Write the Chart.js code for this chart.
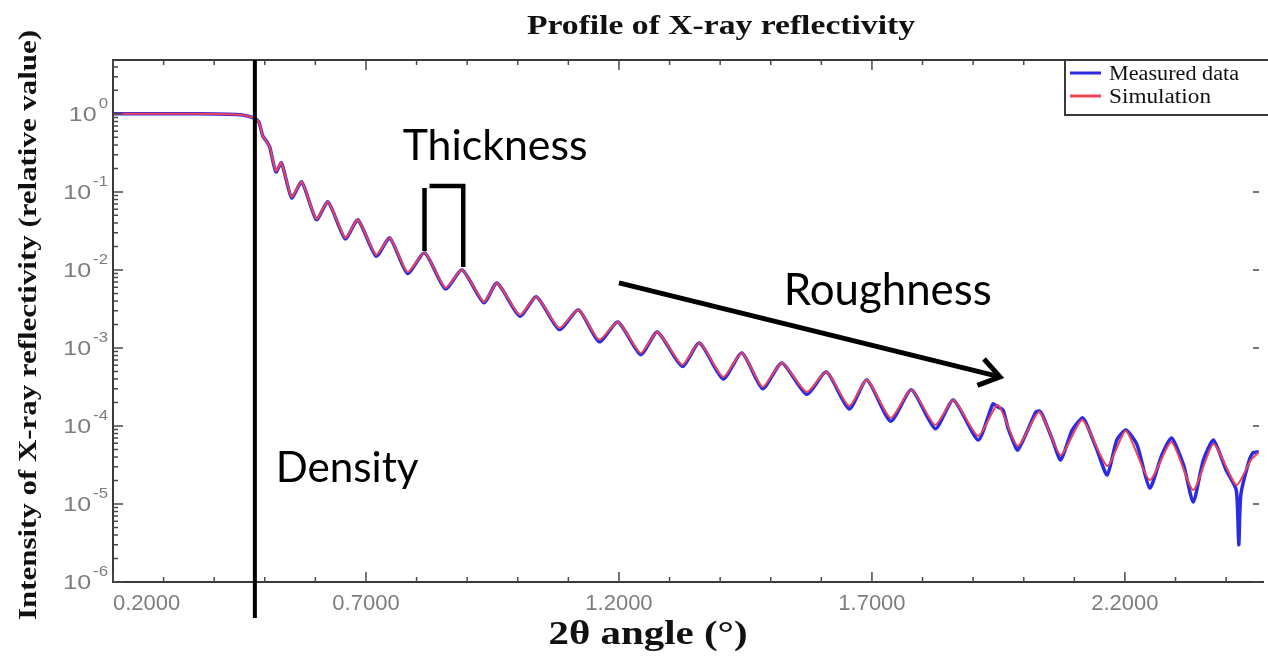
<!DOCTYPE html>
<html>
<head>
    <title>Profile of X-ray reflectivity</title>
    <style>
        html, body { margin: 0; padding: 0; background: #fff; overflow: hidden; }
        #wrap { position: relative; width: 1268px; height: 657px; }
    </style>
    <script src="https://cdn.jsdelivr.net/npm/chart.js"></script>
</head>
<body>
    <div id="wrap"><canvas id="myChart"></canvas></div>
    <script>
        // valores (2theta en grados, intensidad relativa)
        var simAngle = [0.200, 0.292, 0.371, 0.455, 0.478, 0.488, 0.496, 0.504, 0.510, 0.522,
            0.533, 0.553, 0.573, 0.602, 0.625, 0.659, 0.684, 0.720, 0.747, 0.782,
            0.816, 0.857, 0.890, 0.933, 0.959, 1.004, 1.037, 1.082, 1.120, 1.161,
            1.198, 1.243, 1.276, 1.325, 1.359, 1.406, 1.443, 1.484, 1.522, 1.571,
            1.610, 1.655, 1.690, 1.737, 1.778, 1.825, 1.861, 1.910, 1.949, 1.988,
            2.031, 2.073, 2.116, 2.165, 2.202, 2.249, 2.292, 2.335, 2.375, 2.420,
            2.449, 2.465];
        var simIntensity = [1.0, 1.0, 1.0, 0.97, 0.89, 0.79, 0.52, 0.44, 0.37, 0.186,
            0.235, 0.0863, 0.134, 0.0451, 0.0744, 0.0257, 0.0438, 0.0156, 0.0257, 0.0094,
            0.0165, 0.0059, 0.0100, 0.0039, 0.0068, 0.00265, 0.00451, 0.00180, 0.00307, 0.00127,
            0.00215, 0.00086, 0.00160, 0.00061, 0.00116, 0.000425, 0.000863, 0.000316, 0.000643, 0.000273,
            0.000492, 0.000180, 0.000389, 0.000127, 0.000290, 0.000103, 0.000215, 0.0000745, 0.000186, 0.0000554,
            0.000151, 0.0000425, 0.000119, 0.0000307, 0.0000863, 0.0000203, 0.0000624, 0.0000151, 0.0000588, 0.0000175,
            0.0000366, 0.0000464];

        var measAngle = [0.200, 0.292, 0.371, 0.455, 0.478, 0.488, 0.496, 0.504, 0.510, 0.522,
            0.533, 0.553, 0.573, 0.602, 0.625, 0.659, 0.684, 0.720, 0.747, 0.782,
            0.816, 0.857, 0.890, 0.933, 0.959, 1.004, 1.037, 1.082, 1.120, 1.161,
            1.198, 1.243, 1.276, 1.325, 1.359, 1.406, 1.443, 1.484, 1.522, 1.571,
            1.610, 1.655, 1.690, 1.737, 1.778, 1.825, 1.861, 1.910, 1.939, 1.949,
            1.959, 1.969, 1.978, 1.988, 2.008, 2.024, 2.031, 2.037, 2.057, 2.073,
            2.096, 2.116, 2.125, 2.145, 2.165, 2.184, 2.202, 2.224, 2.249, 2.273,
            2.292, 2.316, 2.335, 2.355, 2.375, 2.400, 2.420, 2.425, 2.429, 2.445,
            2.453, 2.465];
        var measIntensity = [1.0, 1.0, 1.0, 0.97, 0.89, 0.79, 0.52, 0.44, 0.37, 0.180,
            0.235, 0.0840, 0.134, 0.0440, 0.0744, 0.0250, 0.0438, 0.0150, 0.0257, 0.0090,
            0.0165, 0.0057, 0.0100, 0.0038, 0.0068, 0.00255, 0.00451, 0.00172, 0.00307, 0.00120,
            0.00215, 0.00082, 0.00160, 0.00058, 0.00116, 0.000400, 0.000863, 0.000300, 0.000643, 0.000255,
            0.000492, 0.000165, 0.000389, 0.000115, 0.000290, 0.000092, 0.000215, 0.0000660, 0.000191, 0.000175,
            0.000160, 0.0000940, 0.0000660, 0.0000490, 0.0000890, 0.000151, 0.000155, 0.000138, 0.0000660, 0.0000366,
            0.0000890, 0.000127, 0.000103, 0.0000490, 0.0000235, 0.0000660, 0.0000890, 0.0000571, 0.0000160, 0.0000425,
            0.0000702, 0.0000316, 0.0000106, 0.0000366, 0.0000660, 0.0000273, 0.0000151, 0.0000030, 0.0000130, 0.0000350,
            0.0000451, 0.0000464];

        var xTicks = [0.2, 0.7, 1.2, 1.7, 2.2];
        var yTicks = [1e-6, 1e-5, 1e-4, 1e-3, 1e-2, 1e-1, 1];
        var xMin = 0.2, xMax = 2.465;
        var yMin = 1e-6, yMax = 4.9;

        // anotaciones en coordenadas de datos
        var densityAngle = 0.4804;
        var bracket = { x1: 0.8157, x2: 0.8922, top: 0.119, y1: 0.0175, y2: 0.0109 };
        var arrow = { x1: 1.200, y1: 0.00681, x2: 1.953, y2: 0.000425 };
        var notes = [
            { text: 'Thickness', x: 0.7725, y: 0.257, w: 185 },
            { text: 'Roughness', x: 1.5255, y: 0.00356, w: 208 },
            { text: 'Density', x: 0.5216, y: 0.0000191, w: 143 }
        ];

        var serif = '"Liberation Serif", "Times New Roman", serif';
        var sans = '"Liberation Sans", Arial, sans-serif';

        function drawText(ctx, text, font, x, y, align, sx) {
            ctx.save();
            ctx.font = font;
            ctx.textAlign = align;
            ctx.textBaseline = 'alphabetic';
            ctx.translate(x, y);
            ctx.scale(sx, 1);
            ctx.fillText(text, 0, 0);
            ctx.restore();
        }

        function fitScale(ctx, text, font, width) {
            ctx.save();
            ctx.font = font;
            var w = ctx.measureText(text).width;
            ctx.restore();
            return width / w;
        }

        var decor = {
            id: 'decor',
            afterDatasetsDraw: function (chart) {
                var ctx = chart.ctx, area = chart.chartArea;
                var xs = chart.scales.x, ys = chart.scales.y;
                ctx.save();

                // marco de los ejes
                ctx.strokeStyle = '#3a3a3a';
                ctx.lineWidth = 2;
                ctx.beginPath();
                ctx.moveTo(area.right + 5, area.top);
                ctx.lineTo(area.left, area.top);
                ctx.lineTo(area.left, area.bottom);
                ctx.lineTo(area.right + 5, area.bottom);
                ctx.stroke();

                // marcas hacia dentro
                ctx.lineWidth = 1.5;
                ctx.strokeStyle = '#4a4a4a';
                ctx.beginPath();
                for (var k = 2; k / 10 < xMax; k++) {
                    var v = k / 10;
                    var px = xs.getPixelForValue(v);
                    var major = xTicks.some(function (t) { return Math.abs(t - v) < 1e-6; });
                    var len = major ? 10 : 5;
                    ctx.moveTo(px, area.bottom); ctx.lineTo(px, area.bottom - len);
                    ctx.moveTo(px, area.top); ctx.lineTo(px, area.top + len);
                }
                for (var d = -6; d <= 0; d++) {
                    for (var m = 1; m <= 9; m++) {
                        var val = m * Math.pow(10, d);
                        if (val > yMax) break;
                        var py = ys.getPixelForValue(val);
                        var l2 = m === 1 ? 10 : 5;
                        ctx.moveTo(area.left, py); ctx.lineTo(area.left + l2, py);
                        if (m === 1) { ctx.moveTo(area.right, py); ctx.lineTo(area.right - 6, py); }
                    }
                }
                ctx.stroke();

                // etiquetas del eje y (10^n)
                ctx.fillStyle = '#7d7d7d';
                yTicks.forEach(function (v) {
                    var py = ys.getPixelForValue(v);
                    var e = String(Math.round(Math.log10(v)));
                    ctx.font = '14px ' + sans;
                    var ew = ctx.measureText(e).width * 1.2;
                    drawText(ctx, e, '14px ' + sans, area.left - 5, py - 6, 'right', 1.2);
                    drawText(ctx, '10', '20px ' + sans, area.left - 7 - ew, py + 7, 'right', 1.25);
                });

                // titulos
                ctx.fillStyle = '#111';
                var tFont = 'bold 28px ' + serif;
                var tText = 'Profile of X-ray reflectivity';
                drawText(ctx, tText, tFont, 721, 34, 'center', fitScale(ctx, tText, tFont, 388));

                var xFont = 'bold 33px ' + serif;
                var xText = '2\u03b8 angle (\u00b0)';
                drawText(ctx, xText, xFont, 648, 644, 'center', fitScale(ctx, xText, xFont, 199));

                var yFont = 'bold 26px ' + serif;
                var yText = 'Intensity of X-ray reflectivity (relative value)';
                var ysx = fitScale(ctx, yText, yFont, 590);
                ctx.save();
                ctx.translate(36, 325);
                ctx.rotate(-Math.PI / 2);
                drawText(ctx, yText, yFont, 0, 0, 'center', ysx);
                ctx.restore();

                // leyenda
                var lx = area.right - 194, ly = area.top;
                ctx.fillStyle = '#fff';
                ctx.fillRect(lx, ly, area.right - lx + 5, 55);
                ctx.strokeStyle = '#3a3a3a';
                ctx.lineWidth = 2;
                ctx.strokeRect(lx, ly, area.right - lx + 10, 55);
                var lFont = '20px ' + serif;
                chart.data.datasets.forEach(function (ds, i) {
                    var yy = ly + 13 + i * 23;
                    ctx.strokeStyle = ds.borderColor;
                    ctx.lineWidth = 3;
                    ctx.beginPath();
                    ctx.moveTo(lx + 5, yy); ctx.lineTo(lx + 36, yy);
                    ctx.stroke();
                    ctx.fillStyle = '#111';
                    var tw = i === 0 ? 130 : 102;
                    drawText(ctx, ds.label, lFont, lx + 44, yy + 7, 'left', fitScale(ctx, ds.label, lFont, tw));
                });

                // anotaciones
                ctx.strokeStyle = '#000';
                ctx.fillStyle = '#000';
                ctx.lineCap = 'butt';
                var dx = xs.getPixelForValue(densityAngle);
                ctx.lineWidth = 4;
                ctx.beginPath();
                ctx.moveTo(dx, area.top); ctx.lineTo(dx, area.bottom + 36);
                ctx.stroke();

                var bx1 = xs.getPixelForValue(bracket.x1), bx2 = xs.getPixelForValue(bracket.x2);
                var bt = ys.getPixelForValue(bracket.top);
                ctx.lineWidth = 4.5;
                ctx.beginPath();
                ctx.moveTo(bx1, bt + 2); ctx.lineTo(bx1, ys.getPixelForValue(bracket.y1));
                ctx.moveTo(bx1 + 5, bt); ctx.lineTo(bx2 + 2, bt);
                ctx.moveTo(bx2, bt - 2); ctx.lineTo(bx2, ys.getPixelForValue(bracket.y2));
                ctx.stroke();

                var ax1 = xs.getPixelForValue(arrow.x1), ay1 = ys.getPixelForValue(arrow.y1);
                var ax2 = xs.getPixelForValue(arrow.x2), ay2 = ys.getPixelForValue(arrow.y2);
                var ang = Math.atan2(ay2 - ay1, ax2 - ax1);
                ctx.lineWidth = 5;
                ctx.lineJoin = 'miter';
                ctx.beginPath();
                ctx.moveTo(ax1, ay1); ctx.lineTo(ax2 - 2 * Math.cos(ang), ay2 - 2 * Math.sin(ang));
                ctx.stroke();
                ctx.beginPath();
                ctx.moveTo(ax2 - 24 * Math.cos(ang - 0.6), ay2 - 24 * Math.sin(ang - 0.6));
                ctx.lineTo(ax2, ay2);
                ctx.lineTo(ax2 - 24 * Math.cos(ang + 0.6), ay2 - 24 * Math.sin(ang + 0.6));
                ctx.stroke();

                notes.forEach(function (n) {
                    ctx.font = '40px Lato, "Open Sans", sans-serif';
                    var size = 40 * n.w / ctx.measureText(n.text).width;
                    ctx.font = size.toFixed(1) + 'px Lato, "Open Sans", sans-serif';
                    ctx.textAlign = 'left';
                    ctx.textBaseline = 'alphabetic';
                    ctx.fillText(n.text, xs.getPixelForValue(n.x), ys.getPixelForValue(n.y));
                });

                ctx.restore();
            }
        };

        var ctx = document.getElementById('myChart').getContext('2d');
        var myChart = new Chart(ctx, {
            type: 'line',
            data: {
                datasets: [{
                    label: 'Measured data',
                    data: measAngle.map(function (a, i) { return { x: a, y: measIntensity[i] }; }),
                    borderColor: '#2b2be3',
                    borderWidth: 3.5,
                    pointRadius: 0,
                    tension: 0.2,
                    order: 2
                },
                {
                    label: 'Simulation',
                    data: simAngle.map(function (a, i) { return { x: a, y: simIntensity[i] }; }),
                    borderColor: '#ee4455',
                    borderWidth: 2,
                    pointRadius: 0,
                    tension: 0.2,
                    order: 1
                }]
            },
            options: {
                responsive: true,
                maintainAspectRatio: false,
                animation: false,
                layout: { padding: { top: 60, left: 0, right: 0, bottom: 0 } },
                plugins: {
                    legend: { display: false },
                    title: { display: false },
                    tooltip: { enabled: false }
                },
                scales: {
                    x: {
                        type: 'linear',
                        min: xMin,
                        max: xMax,
                        grid: { display: false, drawTicks: false, tickLength: 0 },
                        border: { display: false },
                        ticks: {
                            align: 'inner',
                            autoSkip: false,
                            maxRotation: 0,
                            padding: 9,
                            color: '#7d7d7d',
                            font: { family: sans, size: 22 },
                            callback: function (v) { return v === xMax ? '' : v.toFixed(4); }
                        },
                        afterBuildTicks: function (s) {
                            s.ticks = xTicks.concat([xMax]).map(function (v) { return { value: v }; });
                        },
                        afterFit: function (s) { s.height = 75; }
                    },
                    y: {
                        type: 'logarithmic',
                        min: yMin,
                        max: yMax,
                        grid: { display: false, drawTicks: false },
                        border: { display: false },
                        ticks: { display: false },
                        afterBuildTicks: function (s) {
                            s.ticks = yTicks.map(function (v) { return { value: v }; });
                        },
                        afterFit: function (s) { s.width = 113; }
                    }
                }
            },
            plugins: [decor]
        });
    </script>
</body>
</html>
